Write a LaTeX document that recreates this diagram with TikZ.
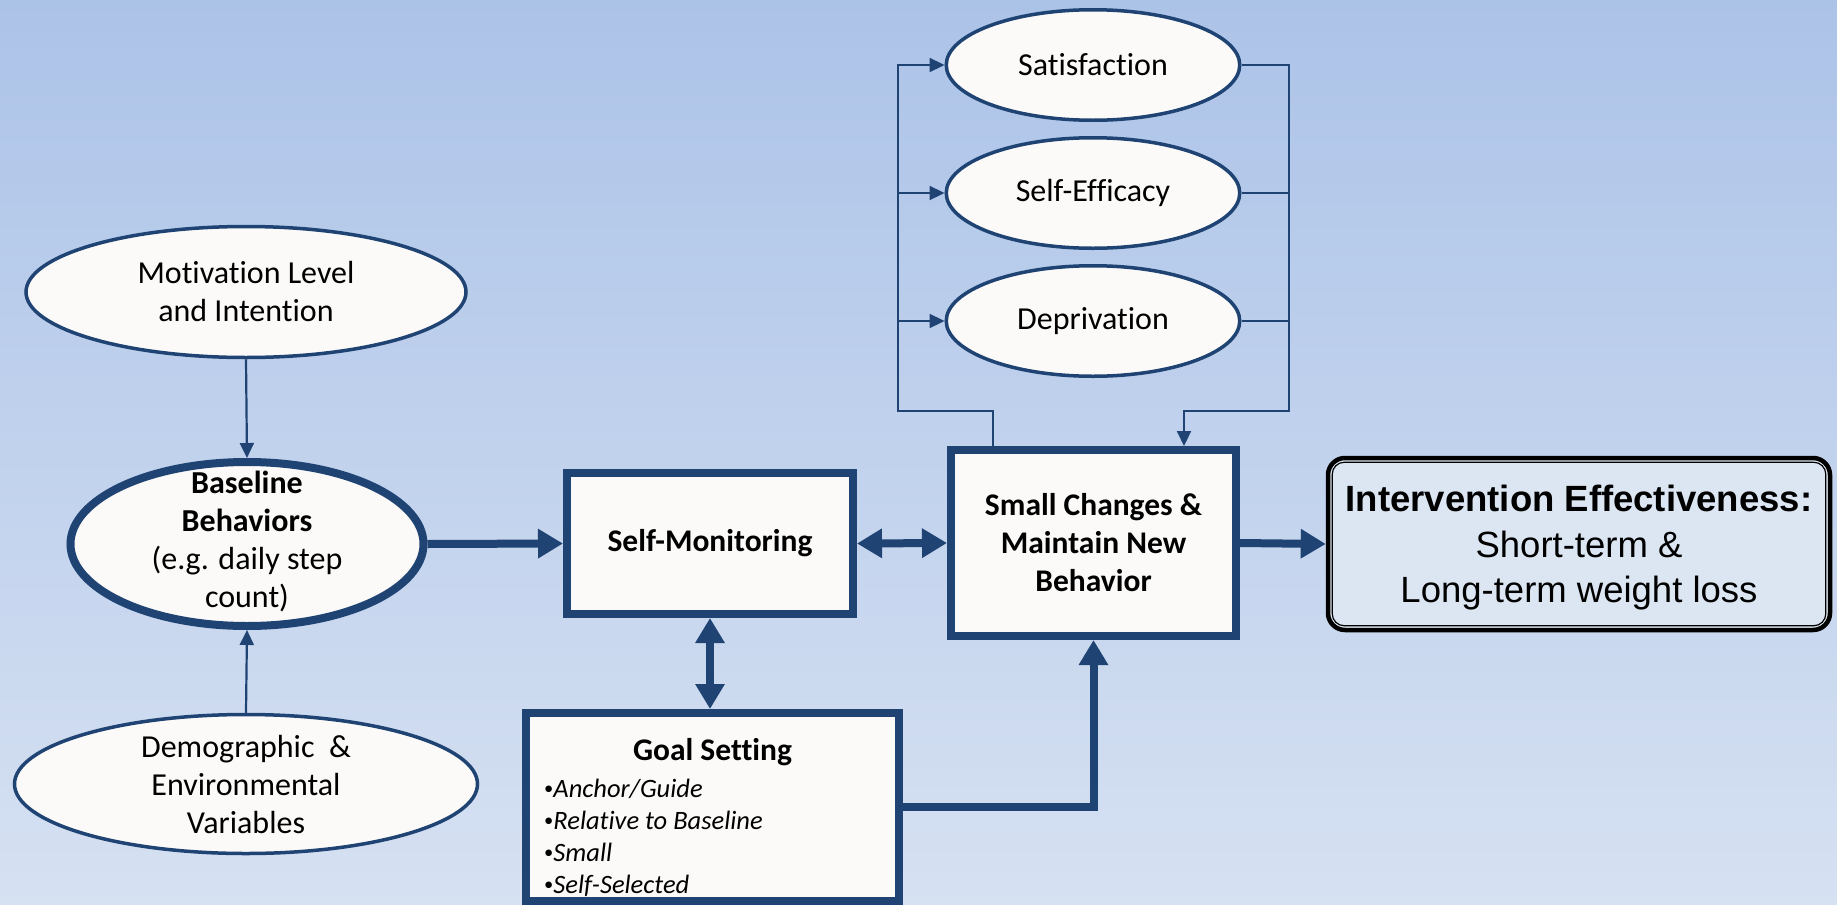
\documentclass[tikz,border=0pt]{standalone}
\usepackage{fontspec}
\setmainfont{Carlito}[Ligatures=NoCommon]
\newfontfamily\arialfont{Liberation Sans}
\usetikzlibrary{shapes.geometric,arrows.meta}

\definecolor{bgtop}{RGB}{172,195,232}
\definecolor{bgbot}{RGB}{214,225,242}
\definecolor{navy}{RGB}{31,67,115}
\definecolor{paper}{RGB}{251,250,248}
\definecolor{paleblue}{RGB}{220,230,242}

\newcommand{\smallbullet}{\raisebox{2.5pt}{\scalebox{0.7}{•}}}

\begin{document}
\begin{tikzpicture}[x=1pt,y=-1pt,
  txt/.style={font=\fontsize{32}{38}\selectfont, align=center, text=black, inner sep=0pt},
  boldtxt/.style={txt, font=\fontsize{31.5}{38}\selectfont\bfseries},
  oval/.style={ellipse, draw=navy, line width=3.5pt, fill=paper, inner sep=0pt},
  heavyoval/.style={oval, line width=8pt},
  block/.style={rectangle, draw=navy, line width=8pt, fill=paper, inner sep=0pt, boldtxt},
  item/.style={font=\fontsize{26.5}{32}\selectfont, inner sep=0pt, anchor=base west},
  wire/.style={draw=navy, line width=2.2pt},
  wirearrow/.style={wire, -{Triangle[length=15pt,width=14pt]}},
  heavy/.style={draw=navy, line width=8pt},
  heavyarrow/.style={heavy, -{Triangle[length=25pt,width=28pt]}},
  heavyboth/.style={heavy, {Triangle[length=25pt,width=28pt]}-{Triangle[length=25pt,width=28pt]}},
]

% page and background gradient
\useasboundingbox (0,0) rectangle (1837,905);
\fill[top color=bgtop, bottom color=bgbot] (0,0) rectangle (1837,905);

% left column: inputs to the baseline
\node[oval, minimum width=440pt, minimum height=131pt] (motiv) at (246,292) {};
\node[txt] (motivtext) at (motiv.center) {Motivation Level\\and Intention};

\node[heavyoval, minimum width=353pt, minimum height=164pt] (base) at (247,544) {};
\node[txt] (basetext) at ([yshift=3pt]base.center) {\textbf{Baseline}\\\textbf{Behaviors}\\(e.g. daily step\\count)};

\node[oval, minimum width=463pt, minimum height=139pt] (demo) at (246,784) {};
\node[txt] (demotext) at (demo.center) {Demographic\ \ \&\\Environmental\\Variables};

% central blocks
\node[block, minimum width=286pt, minimum height=141pt] (selfmon) at (710,543.5) {Self-Monitoring};
\node[block, minimum width=285pt, minimum height=186pt] (small) at (1093.5,543) {Small Changes \&\\Maintain New\\Behavior};

\node[block, minimum width=373pt, minimum height=188pt] (goal) at (712.5,807) {};
\node[boldtxt] (goaltitle) at (712.5,752) {Goal Setting};
\foreach \entry [count=\i] in {Anchor/Guide, Relative to Baseline, Small, Self-Selected}
  \node[item] (goalitem\i) at (544,{797+32*(\i-1)}) {\smallbullet\textit{\entry}};

% mediators above the small-changes block
\node[oval, minimum width=293.5pt, minimum height=110.5pt] (sat) at (1093,65) {};
\node[txt] (sattext) at (sat.center) {Satisfaction};
\node[oval, minimum width=293.5pt, minimum height=110.5pt] (eff) at (1093,193) {};
\node[txt] (efftext) at (eff.center) {Self-Efficacy};
\node[oval, minimum width=293.5pt, minimum height=110.5pt] (dep) at (1093,321) {};
\node[txt] (deptext) at (dep.center) {Deprivation};

% outcome
\node[draw=black, line width=4.5pt, rounded corners=17pt, fill=paleblue,
      minimum width=502pt, minimum height=172pt, inner sep=0pt] (outcome) at (1579,544) {};
\draw[black, line width=1.2pt, rounded corners=12pt]
  ([xshift=6.5pt,yshift=-6.5pt]outcome.north west) rectangle ([xshift=-6.5pt,yshift=6.5pt]outcome.south east);
\node[align=center, inner sep=0pt, font=\arialfont\fontsize{36.5}{45.5}\selectfont] (outcometext)
  at ([yshift=-4pt]outcome.center)
  {\textbf{Intervention Effectiveness:}\\Short-term \&\\Long-term weight loss};

% thin connectors into the baseline
\draw[wirearrow] (motiv.south) -- (base.north);
\draw[wirearrow] (demo.north) -- (base.south);

% heavy flow
\draw[heavyarrow] (base.east) -- (selfmon.west);
\draw[heavyboth] (selfmon.east) -- (small.west);
\draw[heavyboth] (selfmon.south) -- (goal.north -| selfmon.south);
\draw[heavyarrow] (goal.east) -| (small.south);
\draw[heavyarrow] (small.east) -- (outcome.west);

% feedback loop through the mediators
\coordinate (loopL) at (898,411);
\coordinate (loopR) at (1289,411);
\draw[wirearrow] ([xshift=-100.5pt]small.north) |- (loopL) |- (sat.west);
\draw[wirearrow] (loopL |- eff.west) -- (eff.west);
\draw[wirearrow] (loopL |- dep.west) -- (dep.west);
\draw[wirearrow] (sat.east) -| (loopR) -| ([xshift=90.5pt]small.north);
\draw[wire] (eff.east) -- (loopR |- eff.east);
\draw[wire] (dep.east) -- (loopR |- dep.east);

\end{tikzpicture}
\end{document}
